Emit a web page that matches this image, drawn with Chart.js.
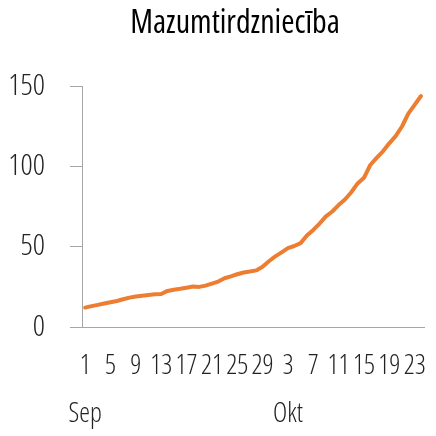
<!DOCTYPE html>
<html>
<head>
<meta charset="utf-8">
<script src="https://cdn.jsdelivr.net/npm/chart.js@4"></script>
<style>
  html, body { margin: 0; padding: 0; background: #fff; }
  #wrap { width: 436px; height: 436px; }
</style>
</head>
<body>
<div id="wrap"><canvas id="tirdzChart" width="436" height="436"></canvas></div>
<script>
// dienas: 1. sep. - 24. okt.
const dienas = [
  1, 2, 3, 4, 5, 6, 7, 8, 9, 10, 11, 12, 13, 14, 15, 16, 17, 18, 19, 20,
  21, 22, 23, 24, 25, 26, 27, 28, 29, 30,
  1, 2, 3, 4, 5, 6, 7, 8, 9, 10, 11, 12, 13, 14, 15, 16, 17, 18, 19, 20,
  21, 22, 23, 24
];
const menesi = ["Sep", "Okt"];
const dienuSkaits = [30, 24];

const vertibas = [
  12.1, 13, 13.8, 14.6, 15.4, 16.2, 17.3, 18.3, 19, 19.5,
  20, 20.4, 20.6, 22.5, 23.2, 23.8, 24.5, 25.2, 25, 25.8,
  27, 28.3, 30.4, 31.6, 32.9, 34, 34.6, 35.3, 37.5, 41,
  44, 46.5, 49.2, 50.5, 52.3, 57, 60.5, 64.5, 69, 72,
  76, 79.5, 84, 89.5, 93, 101, 105.4, 109.5, 114.5, 119,
  125, 133, 138.5, 144
];

const yTicks = [0, 50, 100, 150];

// narrow face: Open Sans with its condensed width
const fontFamily = "'Open Sans', sans-serif";
const narrow = "400 condensed";
const narrowLight = "300 condensed";
const axisColor = "#a6a6a6";

function menesisPec(i){
  return i < dienuSkaits[0] ? 0 : 1;
}

function tickLabel(value, i){
  if(i % 4 !== 0){
    return "";
  }
  const day = String(dienas[i]);
  // month name goes under the first shown day of each month
  const prev = i - 4;
  if(prev < 0 || menesisPec(prev) !== menesisPec(i)){
    return [day, menesi[menesisPec(i)]];
  }
  return day;
}

// move the title a bit to the right of the canvas centre
const titleShift = {
  id: "titleShift",
  afterLayout(chart){
    if(chart.titleBlock){
      chart.titleBlock.left = 36;
    }
  }
};

const ctx = document
  .getElementById("tirdzChart")
  .getContext("2d");

new Chart(ctx, {
  type: "line",
  data: {
    labels: dienas.map(String),
    datasets: [{
      data: vertibas,
      borderColor: "#ED7D31",
      borderWidth: 4,
      pointRadius: 0,
      tension: 0,
      borderCapStyle: "round",
      borderJoinStyle: "round",
      fill: false
    }]
  },
  options: {
    responsive: false,
    animation: false,
    layout: {
      padding: { left: 0, right: 2, top: 0, bottom: 0 }
    },
    plugins: {
      legend: { display: false },
      tooltip: { enabled: false },
      title: {
        display: true,
        text: "Mazumtirdzniecība",
        color: "#000",
        font: { family: fontFamily, size: 32, weight: narrow },
        padding: { top: 5, bottom: 43 }
      }
    },
    scales: {
      x: {
        type: "category",
        offset: true,
        grid: { display: false, drawTicks: false },
        border: { display: true, color: axisColor, width: 1 },
        ticks: {
          autoSkip: false,
          maxRotation: 0,
          minRotation: 0,
          padding: 15,
          color: "#222",
          font: { family: fontFamily, size: 27, weight: narrowLight, lineHeight: 1.78 },
          callback: tickLabel
        },
        afterFit(scale){
          scale.height = 109;
        }
      },
      y: {
        min: 0,
        max: 150,
        afterBuildTicks(scale){
          scale.ticks = yTicks.map(v => ({ value: v }));
        },
        grid: {
          drawOnChartArea: false,
          drawTicks: true,
          tickLength: 12,
          color: axisColor
        },
        border: { display: true, color: axisColor, width: 1 },
        ticks: {
          padding: 25,
          color: "#222",
          font: { family: fontFamily, size: 30, weight: narrowLight }
        },
        afterFit(scale){
          scale.width = 82;
        }
      }
    }
  },
  plugins: [titleShift]
});
</script>
</body>
</html>
